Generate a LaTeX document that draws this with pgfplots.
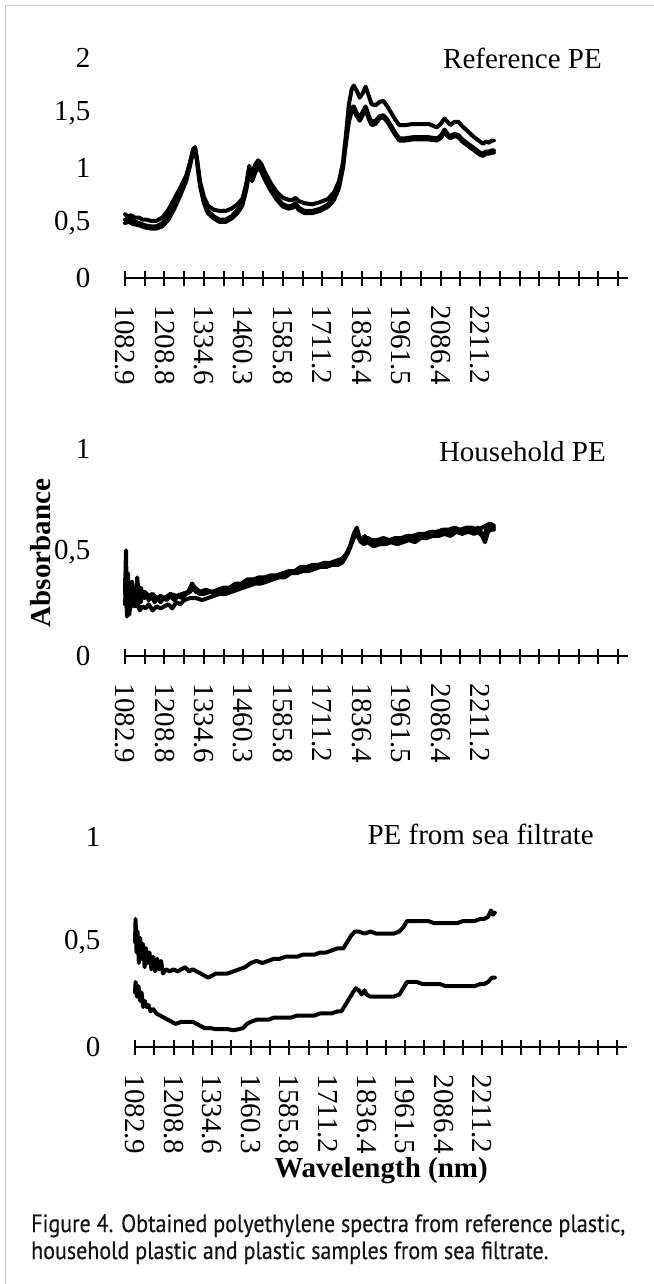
\documentclass[border=0pt]{standalone}
\usepackage{fontspec}
\setmainfont{Liberation Serif}
\newfontfamily\capfont{PT Sans}[FakeStretch=0.88, FakeBold=0.4]
\usepackage{pgfplots}
\pgfplotsset{compat=1.18}
\newcommand\ticfont{\fontsize{29bp}{34bp}\selectfont}
\pgfplotsset{
  panel/.style={
    scale only axis, width=503bp, xmin=0, xmax=25.5, ymin=0,
    axis x line=bottom, axis y line=left,
    x axis line style={-, line width=2bp, black},
    y axis line style={draw=none},
    xtick={0,...,25},
    xticklabels={1082.9,,1208.8,,1334.6,,1460.3,,1585.8,,1711.2,,1836.4,,1961.5,,2086.4,,2211.2,,,,,,,},
    tick align=center, major tick length=15bp,
    xtick style={line width=2bp, black},
    ytick style={draw=none},
    xticklabel style={rotate=-90, anchor=west, inner sep=0pt, font=\ticfont},
    xticklabel shift=20bp,
    yticklabel style={anchor=east, inner sep=0pt, font=\ticfont},
    yticklabel shift=27bp,
    clip=false,
    cycle list={{black}},
    every axis plot post/.append style={line width=4bp, black, no markers, line join=round, line cap=round},
  }
}
\begin{document}
\begin{tikzpicture}
\path[use as bounding box] (0,0) rectangle (654bp,-1284bp);
\draw[black!22, line width=1.5bp] (5.5bp,-1284bp) -- (5.5bp,-5.5bp) -- (654bp,-5.5bp);

% ---------- Panel 1: Reference PE ----------
\begin{axis}[panel, at={(125bp,-278bp)}, anchor=south west, height=220bp,
  ymax=2, ytick={0,0.5,1,1.5,2}, yticklabels={0,{0,5},1,{1,5},2}]
\addplot coordinates {(0,0.58)(0.15,0.56)(0.3,0.57)(0.5,0.55)(0.7,0.55)(0.9,0.53)(1.1,0.53)(1.3,0.52)(1.6,0.52)(1.9,0.55)(2.2,0.62)(2.5,0.72)(2.8,0.82)(3.1,0.93)(3.3,1.05)(3.45,1.17)(3.55,1.19)(3.65,1.08)(3.8,0.88)(4.0,0.74)(4.2,0.66)(4.5,0.62)(4.8,0.61)(5.1,0.61)(5.4,0.63)(5.7,0.67)(5.95,0.72)(6.15,0.84)(6.3,0.98)(6.45,0.95)(6.6,1.03)(6.75,1.07)(6.9,1.04)(7.1,0.96)(7.4,0.86)(7.7,0.78)(8.0,0.73)(8.3,0.71)(8.5,0.71)(8.65,0.73)(8.8,0.70)(9.1,0.68)(9.5,0.67)(9.9,0.69)(10.3,0.72)(10.6,0.78)(10.85,0.88)(11.05,1.05)(11.2,1.30)(11.35,1.58)(11.5,1.72)(11.6,1.75)(11.75,1.70)(11.9,1.64)(12.05,1.68)(12.2,1.74)(12.35,1.66)(12.5,1.58)(12.7,1.57)(12.9,1.60)(13.1,1.61)(13.3,1.56)(13.5,1.50)(13.7,1.44)(13.9,1.39)(14.2,1.39)(14.6,1.40)(15.0,1.40)(15.4,1.40)(15.8,1.37)(16.0,1.40)(16.2,1.45)(16.35,1.42)(16.5,1.39)(16.7,1.42)(16.9,1.42)(17.1,1.38)(17.4,1.33)(17.7,1.28)(18.0,1.24)(18.15,1.22)(18.3,1.24)(18.45,1.23)(18.6,1.25)(18.7,1.25)};
\addplot coordinates {(0,0.50)(0.2,0.51)(0.4,0.49)(0.7,0.48)(1.0,0.46)(1.3,0.45)(1.6,0.45)(1.9,0.47)(2.2,0.53)(2.5,0.63)(2.8,0.75)(3.1,0.88)(3.3,1.02)(3.45,1.15)(3.55,1.18)(3.65,1.06)(3.8,0.84)(4.0,0.68)(4.2,0.59)(4.5,0.54)(4.8,0.51)(5.1,0.51)(5.4,0.54)(5.7,0.59)(5.95,0.66)(6.15,0.80)(6.3,0.97)(6.45,0.88)(6.6,0.96)(6.75,1.00)(6.9,0.97)(7.1,0.89)(7.4,0.79)(7.7,0.71)(8.0,0.65)(8.3,0.63)(8.5,0.64)(8.65,0.66)(8.8,0.62)(9.1,0.59)(9.5,0.59)(9.9,0.61)(10.3,0.65)(10.6,0.71)(10.85,0.82)(11.05,1.00)(11.2,1.22)(11.35,1.42)(11.5,1.52)(11.6,1.53)(11.75,1.47)(11.9,1.43)(12.05,1.48)(12.2,1.53)(12.35,1.45)(12.5,1.39)(12.7,1.40)(12.9,1.45)(13.1,1.46)(13.3,1.42)(13.5,1.36)(13.7,1.30)(13.9,1.25)(14.2,1.25)(14.6,1.26)(15.0,1.26)(15.4,1.26)(15.8,1.25)(16.0,1.27)(16.2,1.33)(16.35,1.29)(16.5,1.27)(16.7,1.29)(16.9,1.28)(17.1,1.24)(17.4,1.20)(17.7,1.16)(18.0,1.12)(18.15,1.11)(18.3,1.13)(18.45,1.13)(18.6,1.14)(18.7,1.14)};
\addplot coordinates {(0,0.53)(0.2,0.54)(0.4,0.52)(0.7,0.50)(1.0,0.48)(1.3,0.47)(1.6,0.47)(1.9,0.50)(2.2,0.57)(2.5,0.68)(2.8,0.80)(3.1,0.92)(3.3,1.05)(3.45,1.16)(3.55,1.18)(3.65,1.07)(3.8,0.86)(4.0,0.70)(4.2,0.61)(4.5,0.56)(4.8,0.53)(5.1,0.53)(5.4,0.56)(5.7,0.62)(5.95,0.70)(6.15,0.86)(6.3,1.02)(6.45,0.92)(6.6,0.99)(6.75,1.02)(6.9,0.99)(7.1,0.91)(7.4,0.81)(7.7,0.73)(8.0,0.67)(8.3,0.65)(8.5,0.66)(8.65,0.68)(8.8,0.64)(9.1,0.61)(9.5,0.61)(9.9,0.63)(10.3,0.67)(10.6,0.74)(10.85,0.85)(11.05,1.03)(11.2,1.26)(11.35,1.46)(11.5,1.55)(11.6,1.56)(11.75,1.50)(11.9,1.46)(12.05,1.51)(12.2,1.56)(12.35,1.48)(12.5,1.42)(12.7,1.43)(12.9,1.47)(13.1,1.48)(13.3,1.44)(13.5,1.38)(13.7,1.32)(13.9,1.27)(14.2,1.27)(14.6,1.28)(15.0,1.28)(15.4,1.28)(15.8,1.27)(16.0,1.29)(16.2,1.35)(16.35,1.31)(16.5,1.29)(16.7,1.31)(16.9,1.30)(17.1,1.26)(17.4,1.22)(17.7,1.18)(18.0,1.14)(18.15,1.13)(18.3,1.15)(18.45,1.15)(18.6,1.16)(18.7,1.16)};
\end{axis}

% ---------- Panel 2: Household PE ----------
\begin{axis}[panel, at={(125bp,-656bp)}, anchor=south west, height=207bp,
  ymax=1, ytick={0,0.5,1}, yticklabels={0,{0,5},1}]
\addplot coordinates {(0,0.30)(0.05,0.51)(0.1,0.22)(0.15,0.40)(0.22,0.20)(0.3,0.34)(0.38,0.26)(0.46,0.31)(0.55,0.24)(0.62,0.38)(0.7,0.29)(0.8,0.26)(0.9,0.31)(1.0,0.28)(1.1,0.30)(1.2,0.27)(1.35,0.29)(1.5,0.26)(1.65,0.28)(1.8,0.26)(1.95,0.28)(2.1,0.27)(2.3,0.29)(2.5,0.27)(2.7,0.29)(2.9,0.28)(3.1,0.30)(3.3,0.31)(3.45,0.33)(3.6,0.31)(3.8,0.30)(4.0,0.30)(4.3,0.31)(4.6,0.30)(4.9,0.32)(5.2,0.31)(5.5,0.33)(5.8,0.34)(6.1,0.34)(6.4,0.36)(6.7,0.36)(7.0,0.37)(7.3,0.37)(7.6,0.38)(7.9,0.39)(8.2,0.39)(8.5,0.41)(8.8,0.41)(9.1,0.42)(9.4,0.42)(9.7,0.43)(10.0,0.44)(10.3,0.44)(10.6,0.45)(10.9,0.45)(11.1,0.47)(11.3,0.50)(11.5,0.55)(11.65,0.60)(11.75,0.61)(11.85,0.58)(11.95,0.55)(12.05,0.56)(12.15,0.58)(12.3,0.55)(12.5,0.55)(12.7,0.54)(12.9,0.55)(13.1,0.56)(13.3,0.55)(13.5,0.55)(13.7,0.56)(13.9,0.55)(14.1,0.56)(14.3,0.57)(14.5,0.56)(14.7,0.57)(14.9,0.58)(15.1,0.57)(15.3,0.58)(15.5,0.59)(15.7,0.58)(15.9,0.59)(16.1,0.60)(16.3,0.59)(16.5,0.60)(16.7,0.61)(16.9,0.60)(17.1,0.61)(17.3,0.60)(17.5,0.61)(17.7,0.60)(17.9,0.62)(18.1,0.59)(18.2,0.57)(18.3,0.61)(18.45,0.62)(18.6,0.63)(18.7,0.62)};
\addplot coordinates {(0,0.25)(0.05,0.36)(0.1,0.19)(0.18,0.30)(0.25,0.22)(0.35,0.29)(0.45,0.24)(0.55,0.33)(0.62,0.26)(0.75,0.22)(0.9,0.24)(1.05,0.23)(1.2,0.25)(1.4,0.22)(1.6,0.24)(1.8,0.23)(2.0,0.24)(2.2,0.25)(2.4,0.23)(2.6,0.26)(2.8,0.25)(3.0,0.27)(3.3,0.28)(3.6,0.28)(3.9,0.27)(4.2,0.28)(4.5,0.29)(4.8,0.30)(5.1,0.30)(5.4,0.31)(5.7,0.32)(6.0,0.33)(6.3,0.34)(6.6,0.35)(6.9,0.35)(7.2,0.36)(7.5,0.37)(7.8,0.38)(8.1,0.38)(8.4,0.40)(8.7,0.40)(9.0,0.41)(9.3,0.41)(9.6,0.42)(9.9,0.43)(10.2,0.43)(10.5,0.44)(10.8,0.44)(11.0,0.45)(11.2,0.48)(11.4,0.52)(11.6,0.57)(11.75,0.59)(11.9,0.56)(12.1,0.54)(12.3,0.55)(12.6,0.53)(12.9,0.54)(13.2,0.54)(13.5,0.55)(13.8,0.54)(14.1,0.55)(14.4,0.56)(14.7,0.55)(15.0,0.57)(15.3,0.57)(15.6,0.58)(15.9,0.58)(16.2,0.59)(16.5,0.58)(16.8,0.60)(17.1,0.59)(17.4,0.60)(17.7,0.59)(17.9,0.60)(18.1,0.58)(18.25,0.55)(18.4,0.60)(18.55,0.61)(18.7,0.61)};
\addplot coordinates {(0,0.37)(0.08,0.28)(0.16,0.33)(0.25,0.30)(0.35,0.36)(0.45,0.31)(0.55,0.29)(0.65,0.24)(0.72,0.27)(0.8,0.33)(0.9,0.30)(1.0,0.31)(1.2,0.29)(1.4,0.30)(1.6,0.28)(1.8,0.29)(2.0,0.28)(2.3,0.30)(2.6,0.29)(2.9,0.30)(3.2,0.31)(3.4,0.35)(3.55,0.33)(3.8,0.31)(4.1,0.32)(4.4,0.31)(4.7,0.32)(5.0,0.33)(5.3,0.33)(5.6,0.35)(5.9,0.35)(6.2,0.37)(6.5,0.37)(6.8,0.38)(7.1,0.38)(7.4,0.39)(7.7,0.39)(8.0,0.40)(8.3,0.41)(8.6,0.41)(8.9,0.43)(9.2,0.43)(9.5,0.44)(9.8,0.44)(10.1,0.45)(10.4,0.45)(10.7,0.46)(11.0,0.47)(11.2,0.49)(11.4,0.53)(11.6,0.59)(11.75,0.62)(11.9,0.57)(12.1,0.56)(12.3,0.57)(12.5,0.56)(12.8,0.56)(13.1,0.57)(13.4,0.56)(13.7,0.57)(14.0,0.57)(14.3,0.58)(14.6,0.58)(14.9,0.59)(15.2,0.59)(15.5,0.60)(15.8,0.60)(16.1,0.61)(16.4,0.61)(16.7,0.62)(17.0,0.61)(17.3,0.62)(17.6,0.62)(17.9,0.61)(18.1,0.62)(18.3,0.63)(18.5,0.64)(18.7,0.63)};
\end{axis}

% ---------- Panel 3: PE from sea filtrate ----------
\begin{axis}[panel, at={(135bp,-1047bp)}, anchor=south west, width=492bp, height=210bp,
  ymax=1, ytick={0,0.5,1}, yticklabels={0,{0,5},1}]
\addplot coordinates {(0,0.50)(0.03,0.61)(0.08,0.45)(0.13,0.55)(0.2,0.40)(0.27,0.52)(0.35,0.42)(0.42,0.49)(0.5,0.38)(0.58,0.47)(0.66,0.40)(0.75,0.45)(0.85,0.37)(0.95,0.43)(1.05,0.36)(1.15,0.42)(1.25,0.37)(1.35,0.41)(1.45,0.35)(1.6,0.37)(1.8,0.36)(2.0,0.37)(2.2,0.36)(2.4,0.37)(2.6,0.38)(2.8,0.36)(3.0,0.37)(3.2,0.36)(3.4,0.35)(3.6,0.34)(3.8,0.33)(4.0,0.34)(4.2,0.35)(4.5,0.35)(4.8,0.35)(5.1,0.36)(5.4,0.37)(5.7,0.38)(6.0,0.40)(6.3,0.41)(6.6,0.40)(6.9,0.41)(7.2,0.42)(7.5,0.42)(7.8,0.43)(8.1,0.43)(8.4,0.43)(8.7,0.44)(9.0,0.44)(9.3,0.44)(9.6,0.45)(9.9,0.45)(10.2,0.46)(10.5,0.47)(10.8,0.47)(11.0,0.50)(11.2,0.53)(11.4,0.55)(11.6,0.55)(11.9,0.54)(12.2,0.55)(12.5,0.54)(12.8,0.54)(13.1,0.54)(13.4,0.54)(13.7,0.55)(13.9,0.57)(14.1,0.60)(14.3,0.60)(14.6,0.60)(14.9,0.60)(15.2,0.60)(15.5,0.59)(15.8,0.59)(16.1,0.59)(16.4,0.59)(16.7,0.59)(17.0,0.60)(17.3,0.60)(17.6,0.60)(17.9,0.61)(18.1,0.61)(18.3,0.62)(18.45,0.65)(18.55,0.63)(18.65,0.64)};
\addplot coordinates {(0,0.26)(0.03,0.31)(0.1,0.24)(0.18,0.29)(0.26,0.22)(0.34,0.26)(0.42,0.19)(0.5,0.22)(0.6,0.19)(0.7,0.20)(0.8,0.17)(0.95,0.18)(1.1,0.16)(1.3,0.15)(1.5,0.14)(1.7,0.13)(1.9,0.12)(2.1,0.11)(2.4,0.12)(2.7,0.12)(3.0,0.12)(3.2,0.11)(3.4,0.10)(3.6,0.09)(3.9,0.09)(4.2,0.085)(4.5,0.085)(4.8,0.085)(5.1,0.08)(5.4,0.085)(5.6,0.09)(5.8,0.11)(6.0,0.12)(6.3,0.13)(6.6,0.13)(6.9,0.13)(7.2,0.14)(7.5,0.14)(7.8,0.14)(8.1,0.14)(8.4,0.15)(8.7,0.15)(9.0,0.15)(9.3,0.15)(9.6,0.16)(9.9,0.16)(10.2,0.16)(10.5,0.17)(10.7,0.17)(10.9,0.20)(11.1,0.23)(11.3,0.26)(11.45,0.28)(11.6,0.27)(11.75,0.25)(11.9,0.27)(12.0,0.25)(12.2,0.24)(12.5,0.24)(12.8,0.24)(13.1,0.24)(13.4,0.24)(13.7,0.25)(13.9,0.28)(14.1,0.31)(14.3,0.31)(14.6,0.31)(14.9,0.30)(15.2,0.30)(15.5,0.30)(15.8,0.30)(16.1,0.29)(16.4,0.29)(16.7,0.29)(17.0,0.29)(17.3,0.29)(17.6,0.29)(17.9,0.30)(18.1,0.30)(18.3,0.31)(18.5,0.33)(18.65,0.33)};
\end{axis}

% ---------- Texts ----------
\node[anchor=base east, inner sep=0pt, font=\ticfont] at (602bp,-68bp) {Reference PE};
\node[anchor=base east, inner sep=0pt, font=\ticfont] at (606bp,-461bp) {Household PE};
\node[anchor=base east, inner sep=0pt, font=\ticfont] at (594bp,-844bp) {PE from sea filtrate};
\node[rotate=90, inner sep=0pt, font=\ticfont\bfseries] at (41bp,-553bp) {Absorbance};
\node[inner sep=0pt, font=\ticfont\bfseries] at (381bp,-1171bp) {Wavelength (nm)};
\node[anchor=base west, inner sep=0pt, text=black!92, font={\capfont\fontsize{25bp}{27bp}\selectfont}] at (31bp,-1232bp) {Figure 4. Obtained polyethylene spectra from reference plastic,};
\node[anchor=base west, inner sep=0pt, text=black!92, font={\capfont\fontsize{25bp}{27bp}\selectfont}] at (31bp,-1259bp) {household plastic and plastic samples from sea filtrate.};
\end{tikzpicture}
\end{document}
